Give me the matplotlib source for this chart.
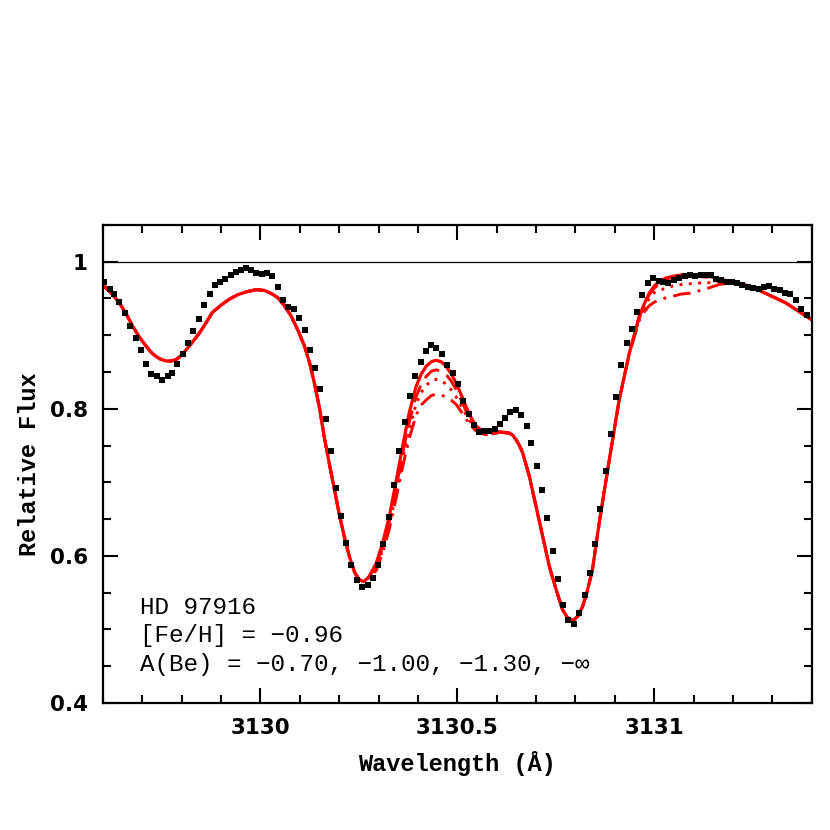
import matplotlib
matplotlib.use("Agg")
import matplotlib.pyplot as plt
import numpy as np
from matplotlib.ticker import MultipleLocator, FuncFormatter

# observed spectrum (black squares)
obs_wave = [3129.602, 3129.617, 3129.629, 3129.642, 3129.656, 3129.669, 3129.683, 3129.696,
            3129.710, 3129.723, 3129.737, 3129.751, 3129.764, 3129.776, 3129.789, 3129.803,
            3129.817, 3129.830, 3129.843, 3129.857, 3129.871, 3129.884, 3129.898, 3129.911,
            3129.925, 3129.937, 3129.951, 3129.964, 3129.976, 3129.990, 3130.003, 3130.017,
            3130.030, 3130.044, 3130.058, 3130.071, 3130.085, 3130.098, 3130.112, 3130.125,
            3130.139, 3130.152, 3130.166, 3130.179, 3130.193, 3130.205, 3130.218, 3130.231,
            3130.244, 3130.258, 3130.272, 3130.285, 3130.299, 3130.312, 3130.326, 3130.339,
            3130.353, 3130.366, 3130.380, 3130.393, 3130.407, 3130.421, 3130.434, 3130.447,
            3130.461, 3130.475, 3130.488, 3130.502, 3130.515, 3130.529, 3130.542, 3130.554,
            3130.568, 3130.581, 3130.595, 3130.608, 3130.622, 3130.635, 3130.649, 3130.662,
            3130.676, 3130.688, 3130.703, 3130.716, 3130.728, 3130.742, 3130.756, 3130.769,
            3130.782, 3130.796, 3130.810, 3130.823, 3130.837, 3130.850, 3130.863, 3130.877,
            3130.891, 3130.904, 3130.916, 3130.930, 3130.943, 3130.957, 3130.970, 3130.984,
            3130.997, 3131.011, 3131.023, 3131.036, 3131.050, 3131.063, 3131.077, 3131.091,
            3131.104, 3131.118, 3131.131, 3131.145, 3131.158, 3131.170, 3131.184, 3131.197,
            3131.211, 3131.224, 3131.238, 3131.251, 3131.265, 3131.278, 3131.292, 3131.305,
            3131.319, 3131.333, 3131.346, 3131.360, 3131.373, 3131.387]
obs_flux = [0.972, 0.963, 0.956, 0.945, 0.930, 0.913, 0.896, 0.880,
            0.861, 0.847, 0.844, 0.839, 0.844, 0.849, 0.861, 0.875,
            0.889, 0.906, 0.922, 0.941, 0.956, 0.968, 0.972, 0.976,
            0.982, 0.986, 0.989, 0.992, 0.989, 0.985, 0.983, 0.985,
            0.981, 0.966, 0.948, 0.938, 0.936, 0.924, 0.907, 0.880,
            0.856, 0.827, 0.786, 0.742, 0.693, 0.654, 0.617, 0.587,
            0.567, 0.558, 0.560, 0.570, 0.587, 0.616, 0.653, 0.697,
            0.742, 0.782, 0.817, 0.845, 0.863, 0.878, 0.887, 0.883,
            0.874, 0.860, 0.849, 0.834, 0.811, 0.793, 0.778, 0.769,
            0.770, 0.770, 0.773, 0.780, 0.787, 0.796, 0.798, 0.791,
            0.777, 0.753, 0.722, 0.689, 0.651, 0.607, 0.568, 0.533,
            0.513, 0.508, 0.522, 0.547, 0.577, 0.616, 0.664, 0.715,
            0.766, 0.816, 0.859, 0.889, 0.908, 0.931, 0.955, 0.971,
            0.978, 0.974, 0.973, 0.971, 0.975, 0.978, 0.980, 0.982,
            0.981, 0.982, 0.982, 0.982, 0.977, 0.975, 0.973, 0.973,
            0.971, 0.969, 0.966, 0.964, 0.963, 0.966, 0.967, 0.963,
            0.961, 0.958, 0.956, 0.948, 0.936, 0.928]

# synthetic spectrum, solid curve (full range)
syn_wave = [3129.599, 3129.620, 3129.642, 3129.660, 3129.676, 3129.693, 3129.710, 3129.722,
            3129.735, 3129.748, 3129.761, 3129.774, 3129.786, 3129.798, 3129.811, 3129.828,
            3129.845, 3129.862, 3129.878, 3129.900, 3129.921, 3129.942, 3129.964, 3129.989,
            3130.010, 3130.030, 3130.044, 3130.060, 3130.078, 3130.095, 3130.112, 3130.125,
            3130.137, 3130.150, 3130.162, 3130.175, 3130.188, 3130.200, 3130.213, 3130.226,
            3130.239, 3130.250, 3130.262, 3130.275, 3130.294, 3130.310, 3130.327, 3130.344,
            3130.361, 3130.378, 3130.395, 3130.408, 3130.421, 3130.434, 3130.446, 3130.459,
            3130.471, 3130.484, 3130.497, 3130.510, 3130.522, 3130.535, 3130.547, 3130.563,
            3130.581, 3130.607, 3130.632, 3130.641, 3130.649, 3130.658, 3130.666, 3130.683,
            3130.700, 3130.717, 3130.734, 3130.751, 3130.767, 3130.780, 3130.794, 3130.806,
            3130.818, 3130.830, 3130.843, 3130.860, 3130.886, 3130.911, 3130.937, 3130.962,
            3130.975, 3130.987, 3131.000, 3131.013, 3131.030, 3131.047, 3131.068, 3131.089,
            3131.110, 3131.131, 3131.165, 3131.199, 3131.241, 3131.283, 3131.334, 3131.400]
syn_flux = [0.969, 0.958, 0.944, 0.928, 0.912, 0.897, 0.885, 0.877,
            0.871, 0.867, 0.865, 0.865, 0.867, 0.872, 0.880, 0.891,
            0.903, 0.917, 0.931, 0.941, 0.949, 0.955, 0.959, 0.962,
            0.961, 0.956, 0.951, 0.941, 0.926, 0.907, 0.885, 0.862,
            0.835, 0.801, 0.762, 0.725, 0.690, 0.657, 0.626, 0.599,
            0.578, 0.568, 0.565, 0.571, 0.590, 0.617, 0.653, 0.700,
            0.749, 0.795, 0.830, 0.847, 0.858, 0.864, 0.866, 0.864,
            0.858, 0.848, 0.835, 0.819, 0.803, 0.788, 0.777, 0.770,
            0.768, 0.769, 0.767, 0.764, 0.758, 0.750, 0.740, 0.708,
            0.667, 0.626, 0.585, 0.554, 0.527, 0.516, 0.512, 0.518,
            0.531, 0.552, 0.581, 0.644, 0.731, 0.812, 0.876, 0.926,
            0.943, 0.957, 0.967, 0.973, 0.978, 0.980, 0.982, 0.982,
            0.982, 0.981, 0.977, 0.972, 0.967, 0.957, 0.944, 0.921]

# parts where the other Be abundances differ from the solid curve
be_wave = [3130.294, 3130.310, 3130.327, 3130.344, 3130.361, 3130.378, 3130.395, 3130.408,
           3130.421, 3130.434, 3130.446, 3130.459, 3130.471, 3130.484, 3130.497, 3130.510,
           3130.522, 3130.535, 3130.547, 3130.563, 3130.581, 3130.607]
dash_be = [0.586, 0.612, 0.646, 0.691, 0.739, 0.782, 0.816, 0.833, 0.844, 0.851, 0.853, 0.851,
           0.847, 0.838, 0.826, 0.812, 0.797, 0.784, 0.774, 0.768, 0.766, 0.768]
dot_be = [0.583, 0.608, 0.641, 0.684, 0.731, 0.772, 0.806, 0.822, 0.832, 0.838, 0.840, 0.838,
          0.834, 0.826, 0.816, 0.804, 0.792, 0.781, 0.772, 0.767, 0.765, 0.768]
dashdot_be = [0.580, 0.604, 0.636, 0.677, 0.721, 0.760, 0.791, 0.805, 0.812, 0.818, 0.820,
              0.819, 0.816, 0.812, 0.806, 0.796, 0.786, 0.777, 0.770, 0.766, 0.764, 0.768]

red_wave = [3130.962, 3130.975, 3130.987, 3131.000, 3131.013, 3131.030, 3131.047, 3131.068,
            3131.089, 3131.110, 3131.131, 3131.165, 3131.199]
dash_red = [0.925, 0.942, 0.955, 0.964, 0.970, 0.976, 0.979, 0.980, 0.980, 0.980, 0.979,
            0.976, 0.972]
dot_red = [0.923, 0.938, 0.950, 0.958, 0.961, 0.964, 0.967, 0.969, 0.970, 0.971, 0.971,
           0.973, 0.972]
dashdot_red = [0.920, 0.932, 0.940, 0.945, 0.948, 0.951, 0.953, 0.956, 0.957, 0.960, 0.963,
               0.969, 0.972]

labels = ["HD 97916", "[Fe/H] = \u22120.96",
          "A(Be) = \u22120.70, \u22121.00, \u22121.30, \u2212\u221e"]


def splice(w, f, segs):
    w = np.array(w)
    f = np.array(f)
    for sw, sf in segs:
        keep = (w < sw[0]) | (w > sw[-1])
        w = np.concatenate([w[keep], sw])
        f = np.concatenate([f[keep], sf])
        order = np.argsort(w)
        w, f = w[order], f[order]
    return w, f


fig = plt.figure(figsize=(8.3, 8.3), dpi=100)
ax = fig.add_axes([0.124, 0.153, 0.854, 0.576])

ax.axhline(1.0, color="black", lw=0.9, zorder=1)

ax.plot(obs_wave, obs_flux, "s", color="black", ms=4.3, mew=0, zorder=3)

styles = [((0, (6, 3)), dash_be, dash_red),
          ((0, (1, 2.2)), dot_be, dot_red),
          ((0, (6, 2.5, 1, 2.5)), dashdot_be, dashdot_red)]
for ls, fb, fr in styles:
    w, f = splice(syn_wave, syn_flux, [(np.array(be_wave), np.array(fb)),
                                       (np.array(red_wave), np.array(fr))])
    ax.plot(w, f, color="red", lw=2.1, ls=ls, zorder=2)
ax.plot(syn_wave, syn_flux, color="red", lw=2.3, zorder=2, solid_joinstyle="round")

ax.set_xlim(3129.6, 3131.4)
ax.set_ylim(0.4, 1.05)
ax.xaxis.set_major_locator(MultipleLocator(0.5))
ax.xaxis.set_minor_locator(MultipleLocator(0.1))
ax.yaxis.set_major_locator(MultipleLocator(0.2))
ax.yaxis.set_minor_locator(MultipleLocator(0.05))
ax.xaxis.set_major_formatter(FuncFormatter(lambda v, p: "%g" % v))
ax.yaxis.set_major_formatter(FuncFormatter(lambda v, p: "%g" % round(v, 2)))

ax.tick_params(which="both", direction="in", top=True, right=True, width=1.5)
ax.tick_params(which="major", length=11, pad=11)
ax.tick_params(which="minor", length=5.5)
for t in ax.get_xticklabels() + ax.get_yticklabels():
    t.set_fontweight("bold")
    t.set_fontsize(15.5)
for s in ax.spines.values():
    s.set_linewidth(1.6)

mono = ["Liberation Mono", "DejaVu Sans Mono"]
ax.set_xlabel("Wavelength (\u00c5)", family=mono, fontweight="bold", fontsize=17, labelpad=9)
ax.set_ylabel("Relative Flux", family=mono, fontweight="bold", fontsize=17, labelpad=6)

ys = [0.186, 0.128, 0.066]
for txt, yy in zip(labels, ys):
    ax.text(0.052, yy, txt, transform=ax.transAxes, family=mono, fontsize=17.5, va="baseline")

fig.savefig("out.png", dpi=100)
